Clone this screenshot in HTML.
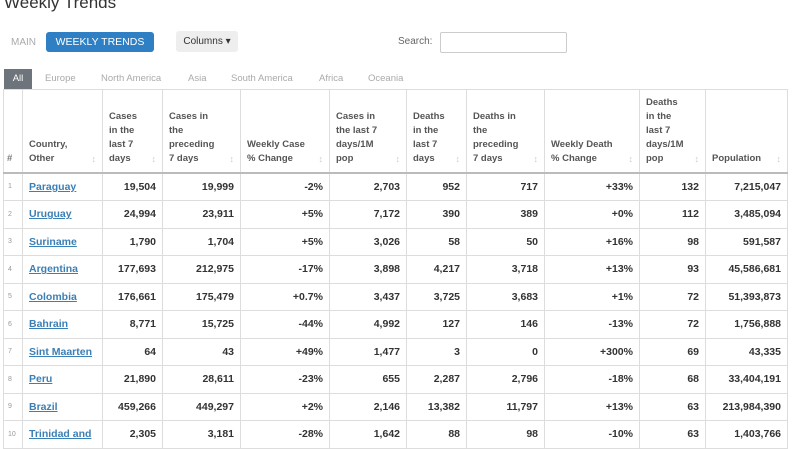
<!DOCTYPE html>
<html><head><meta charset="utf-8"><style>
body{margin:0;width:800px;height:445px;overflow:hidden;background:#fff;font-family:"Liberation Sans",sans-serif;position:relative}
.abs{position:absolute;white-space:nowrap}
table{position:absolute;left:3px;top:89px;border-collapse:collapse;table-layout:fixed;width:784px}
td,th{border:1px solid #ddd;padding:0 6px;font-size:10.5px;overflow:hidden;white-space:nowrap}
th{font-size:9.5px;color:#555;text-align:left;vertical-align:bottom;white-space:normal;line-height:14px;padding:0 20px 6px 6px;position:relative;border-bottom:2px solid #bbb}
th:after{content:"↕";position:absolute;right:6px;bottom:6px;color:#ccc;font-size:9px}
th.n:after{content:""}
td{height:26.5px;text-align:right;font-weight:bold;color:#333}
td.i{font-size:7px;color:#999;font-weight:normal;text-align:left;padding:0 4px}
td.c{text-align:left;color:#3a7fb5;text-decoration:underline}
</style></head><body>
<div class="abs" style="left:4px;top:-7px;font-size:17px;color:#333">Weekly Trends</div>
<div class="abs" style="left:11px;top:37px;font-size:10px;color:#aaa">MAIN</div>
<div class="abs" style="left:46px;top:32px;width:108px;height:20px;background:#2f7fc4;border-radius:3px;color:#fff;font-size:10.5px;line-height:20px;text-align:center">WEEKLY TRENDS</div>
<div class="abs" style="left:176px;top:31px;width:62px;height:21px;background:#eee;border-radius:3px;color:#333;font-size:10px;line-height:21px;text-align:center">Columns ▾</div>
<div class="abs" style="left:398px;top:36px;font-size:10px;color:#666">Search:</div>
<div class="abs" style="left:440px;top:32px;width:125px;height:19px;border:1px solid #ccc;border-radius:2px"></div>
<div class="abs" style="left:4px;top:69px;width:28px;height:20px;background:#6d747b;color:#fff;font-size:9.5px;line-height:20px;text-align:center">All</div>
<span class="abs" style="top:73px;font-size:9.5px;color:#aaa;left:45px">Europe</span><span class="abs" style="top:73px;font-size:9.5px;color:#aaa;left:101px">North America</span><span class="abs" style="top:73px;font-size:9.5px;color:#aaa;left:188px">Asia</span><span class="abs" style="top:73px;font-size:9.5px;color:#aaa;left:231px">South America</span><span class="abs" style="top:73px;font-size:9.5px;color:#aaa;left:319px">Africa</span><span class="abs" style="top:73px;font-size:9.5px;color:#aaa;left:368px">Oceania</span>
<table>
<colgroup><col style="width:19px"><col style="width:80px"><col style="width:60px"><col style="width:78px"><col style="width:89px"><col style="width:77px"><col style="width:60px"><col style="width:78px"><col style="width:95px"><col style="width:66px"><col style="width:82px"></colgroup>
<tr style="height:83px"><th class="n" style="padding:0 3px 6px;color:#777">#</th><th>Country,<br>Other</th><th>Cases in the last 7 days</th><th>Cases in the preceding 7 days</th><th>Weekly Case % Change</th><th>Cases in the last 7 days/1M pop</th><th>Deaths in the last 7 days</th><th>Deaths in the preceding 7 days</th><th>Weekly Death % Change</th><th>Deaths in the last 7 days/1M pop</th><th>Population</th></tr>
<tr><td class="i">1</td><td class="c">Paraguay</td><td>19,504</td><td>19,999</td><td>-2%</td><td>2,703</td><td>952</td><td>717</td><td>+33%</td><td>132</td><td>7,215,047</td></tr>
<tr><td class="i">2</td><td class="c">Uruguay</td><td>24,994</td><td>23,911</td><td>+5%</td><td>7,172</td><td>390</td><td>389</td><td>+0%</td><td>112</td><td>3,485,094</td></tr>
<tr><td class="i">3</td><td class="c">Suriname</td><td>1,790</td><td>1,704</td><td>+5%</td><td>3,026</td><td>58</td><td>50</td><td>+16%</td><td>98</td><td>591,587</td></tr>
<tr><td class="i">4</td><td class="c">Argentina</td><td>177,693</td><td>212,975</td><td>-17%</td><td>3,898</td><td>4,217</td><td>3,718</td><td>+13%</td><td>93</td><td>45,586,681</td></tr>
<tr><td class="i">5</td><td class="c">Colombia</td><td>176,661</td><td>175,479</td><td>+0.7%</td><td>3,437</td><td>3,725</td><td>3,683</td><td>+1%</td><td>72</td><td>51,393,873</td></tr>
<tr><td class="i">6</td><td class="c">Bahrain</td><td>8,771</td><td>15,725</td><td>-44%</td><td>4,992</td><td>127</td><td>146</td><td>-13%</td><td>72</td><td>1,756,888</td></tr>
<tr><td class="i">7</td><td class="c">Sint Maarten</td><td>64</td><td>43</td><td>+49%</td><td>1,477</td><td>3</td><td>0</td><td>+300%</td><td>69</td><td>43,335</td></tr>
<tr><td class="i">8</td><td class="c">Peru</td><td>21,890</td><td>28,611</td><td>-23%</td><td>655</td><td>2,287</td><td>2,796</td><td>-18%</td><td>68</td><td>33,404,191</td></tr>
<tr><td class="i">9</td><td class="c">Brazil</td><td>459,266</td><td>449,297</td><td>+2%</td><td>2,146</td><td>13,382</td><td>11,797</td><td>+13%</td><td>63</td><td>213,984,390</td></tr>
<tr><td class="i">10</td><td class="c">Trinidad and</td><td>2,305</td><td>3,181</td><td>-28%</td><td>1,642</td><td>88</td><td>98</td><td>-10%</td><td>63</td><td>1,403,766</td></tr>
</table>
</body></html>
